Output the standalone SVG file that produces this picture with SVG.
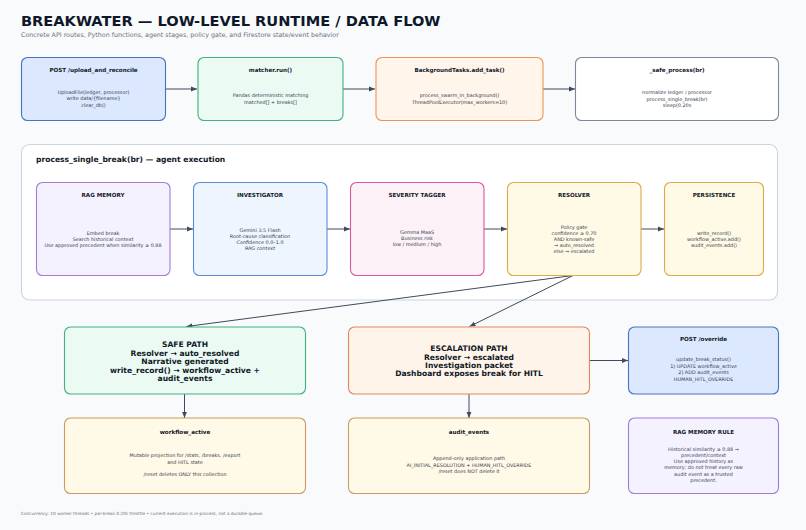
<svg xmlns="http://www.w3.org/2000/svg" width="806" height="530" viewBox="0 0 806 530">
<defs>
<marker id="ah" viewBox="0 0 10 10" refX="10" refY="5" markerWidth="6" markerHeight="6" markerUnits="userSpaceOnUse" orient="auto">
<path d="M0,1 L10,5 L0,9 z" fill="#3f4a5c"/>
</marker>
<style>
text{font-family:"DejaVu Sans","Liberation Sans",sans-serif;fill:#1f2937;text-anchor:middle}
.t{font-weight:bold;font-size:5.6px;fill:#111827}
.b{font-size:4.9px;fill:#374151}
.big{font-weight:bold;font-size:7.6px;fill:#111827}
.box{stroke-width:1.1}
.blue{fill:#dbe8fd;stroke:#4a72c4}
.green{fill:#ebfbf3;stroke:#3fb27f}
.orange{fill:#fff5ea;stroke:#ee9350}
.gray{fill:#ffffff;stroke:#7c879a}
.purple{fill:#f5f2ff;stroke:#a27bd9}
.lblue{fill:#eef5ff;stroke:#5a8cd6}
.pink{fill:#fdf1f8;stroke:#d9589c}
.yellow{fill:#fefae6;stroke:#dcaa48}
.sand{fill:#fff9e8;stroke:#cc9a5e}
.sorange{fill:#fff4ea;stroke:#e5875a}
.conn line{stroke:#3f4a5c;stroke-width:1;fill:none;marker-end:url(#ah)}
</style>
</defs>
<rect width="806" height="530" fill="#f8fafc"/>
<text x="21" y="26" style="font-weight:bold;font-size:14.6px;fill:#0f172a;text-anchor:start">BREAKWATER — LOW-LEVEL RUNTIME / DATA FLOW</text>
<text x="21" y="36.8" style="font-size:6.35px;fill:#6b7280;text-anchor:start">Concrete API routes, Python functions, agent stages, policy gate, and Firestore state/event behavior</text>

<g id="container">
<rect x="21.5" y="144.5" width="756" height="155.5" rx="8" fill="#ffffff" stroke="#cdd5df" stroke-width="1.1"/>
<text x="36" y="162" style="font-weight:bold;font-size:7.6px;fill:#111827;text-anchor:start">process_single_break(br) — agent execution</text>
</g>

<g class="conn" id="connectors">
<line x1="165" y1="89" x2="197" y2="89"/>
<line x1="343" y1="89" x2="375" y2="89"/>
<line x1="543" y1="89" x2="575" y2="89"/>
<line x1="170" y1="229" x2="193" y2="229"/>
<line x1="327" y1="229" x2="350" y2="229"/>
<line x1="484" y1="229" x2="507" y2="229"/>
<line x1="641" y1="229" x2="664" y2="229"/>
<line x1="573" y1="275.5" x2="186.5" y2="326.5"/>
<line x1="573" y1="275.5" x2="469.5" y2="326.5"/>
<line x1="184.5" y1="394" x2="184.5" y2="418"/>
<line x1="469" y1="394" x2="469" y2="418"/>
<line x1="589" y1="360.5" x2="628" y2="360.5"/>
</g>

<g id="upload">
<rect class="box blue" x="21.5" y="57.5" width="144" height="63" rx="6"/>
<text class="t" x="93.5" y="72">POST /upload_and_reconcile</text>
<text class="b" x="93.5" y="93.5">UploadFile(ledger, processor)</text>
<text class="b" x="93.5" y="100">write data/{filename}</text>
<text class="b" x="93.5" y="106.5">clear_db()</text>
</g>
<g id="matcher">
<rect class="box green" x="198" y="57.5" width="145" height="63" rx="6"/>
<text class="t" x="270.5" y="72">matcher.run()</text>
<text class="b" x="270.5" y="97">Pandas deterministic matching</text>
<text class="b" x="270.5" y="103.5">matched[] + breaks[]</text>
</g>
<g id="bgtasks">
<rect class="box orange" x="376" y="57.5" width="167" height="63" rx="6"/>
<text class="t" x="459.5" y="72">BackgroundTasks.add_task()</text>
<text class="b" x="459.5" y="97">process_swarm_in_background()</text>
<text class="b" x="459.5" y="103.5">ThreadPoolExecutor(max_workers=10)</text>
</g>
<g id="safeproc">
<rect class="box gray" x="575.5" y="57.5" width="203" height="63" rx="6"/>
<text class="t" x="677" y="72">_safe_process(br)</text>
<text class="b" x="677" y="94">normalize ledger / processor</text>
<text class="b" x="677" y="100.5">process_single_break(br)</text>
<text class="b" x="677" y="107">sleep(0.20s</text>
</g>

<g id="rag">
<rect class="box purple" x="36.5" y="182.5" width="133.5" height="93" rx="6"/>
<text class="t" x="103" y="197">RAG MEMORY</text>
<text class="b" x="103" y="234.5">Embed break</text>
<text class="b" x="103" y="240.5">Search historical context</text>
<text class="b" x="103" y="246.5">Use approved precedent when similarity ≥ 0.88</text>
</g>
<g id="investigator">
<rect class="box lblue" x="193.5" y="182.5" width="133.5" height="93" rx="6"/>
<text class="t" x="260" y="197">INVESTIGATOR</text>
<text class="b" x="260" y="232">Gemini 3.5 Flash</text>
<text class="b" x="260" y="238">Root-cause classification</text>
<text class="b" x="260" y="244">Confidence 0.0–1.0</text>
<text class="b" x="260" y="250">RAG context</text>
</g>
<g id="severity">
<rect class="box pink" x="350.5" y="182.5" width="133.5" height="93" rx="6"/>
<text class="t" x="417" y="197">SEVERITY TAGGER</text>
<text class="b" x="417" y="234">Gemma MaaS</text>
<text class="b" x="417" y="240">Business risk</text>
<text class="b" x="417" y="246">low / medium / high</text>
</g>
<g id="resolver">
<rect class="box yellow" x="507.5" y="182.5" width="133.5" height="93" rx="6"/>
<text class="t" x="574" y="197">RESOLVER</text>
<text class="b" x="574" y="229">Policy gate</text>
<text class="b" x="574" y="235">confidence ≥ 0.70</text>
<text class="b" x="574" y="241">AND known-safe</text>
<text class="b" x="574" y="247">→ auto_resolved</text>
<text class="b" x="574" y="253">else → escalated</text>
</g>
<g id="persistence">
<rect class="box yellow" x="664.5" y="182.5" width="99" height="93" rx="6"/>
<text class="t" x="714" y="197">PERSISTENCE</text>
<text class="b" x="714" y="234.5">write_record()</text>
<text class="b" x="714" y="240.5">workflow_active.add()</text>
<text class="b" x="714" y="246.5">audit_events.add()</text>
</g>

<g id="safepath">
<rect class="box green" x="64.5" y="327" width="241" height="67" rx="6"/>
<text class="big" x="185" y="347">SAFE PATH</text>
<text class="big" x="185" y="355.5">Resolver → auto_resolved</text>
<text class="big" x="185" y="364">Narrative generated</text>
<text class="big" x="185" y="372.5">write_record() → workflow_active +</text>
<text class="big" x="185" y="381">audit_events</text>
</g>
<g id="escalation">
<rect class="box sorange" x="348.5" y="327" width="241" height="67" rx="6"/>
<text class="big" x="469" y="351.3">ESCALATION PATH</text>
<text class="big" x="469" y="359.7">Resolver → escalated</text>
<text class="big" x="469" y="368">Investigation packet</text>
<text class="big" x="469" y="376.3">Dashboard exposes break for HITL</text>
</g>
<g id="override">
<rect class="box blue" x="628.5" y="327" width="150" height="67" rx="6"/>
<text class="t" x="703.5" y="341.3">POST /override</text>
<text class="b" x="703.5" y="361">update_break_status()</text>
<text class="b" x="703.5" y="367.5">1) UPDATE workflow_active</text>
<text class="b" x="703.5" y="374">2) ADD audit_events</text>
<text class="b" x="703.5" y="380.5">HUMAN_HITL_OVERRIDE</text>
</g>

<g id="workflow">
<rect class="box sand" x="64.5" y="418" width="241" height="75.5" rx="6"/>
<text class="t" x="185" y="433.7">workflow_active</text>
<text class="b" x="185" y="457">Mutable projection for /stats, /breaks, /export</text>
<text class="b" x="185" y="463.5">and HITL state</text>
<text class="b" x="185" y="476">/reset deletes ONLY this collection</text>
</g>
<g id="audit">
<rect class="box sand" x="348.5" y="418" width="241" height="75.5" rx="6"/>
<text class="t" x="469" y="433.7">audit_events</text>
<text class="b" x="469" y="460">Append-only application path</text>
<text class="b" x="469" y="466.5">AI_INITIAL_RESOLUTION + HUMAN_HITL_OVERRIDE</text>
<text class="b" x="469" y="473">/reset does NOT delete it</text>
</g>
<g id="ragrule">
<rect class="box purple" x="628.5" y="418" width="150" height="75.5" rx="6"/>
<text class="t" x="703.5" y="433.7">RAG MEMORY RULE</text>
<text class="b" x="703.5" y="450.5">Historical similarity ≥ 0.88 →</text>
<text class="b" x="703.5" y="456.8">precedent/context</text>
<text class="b" x="703.5" y="463.1">Use approved history as</text>
<text class="b" x="703.5" y="469.4">memory; do not treat every raw</text>
<text class="b" x="703.5" y="475.7">audit event as a trusted</text>
<text class="b" x="703.5" y="482">precedent.</text>
</g>

<text x="21" y="515.3" style="font-size:4.28px;fill:#6b7280;text-anchor:start">Concurrency: 10 worker threads • per-break 0.20s throttle • current execution is in-process, not a durable queue.</text>
</svg>
